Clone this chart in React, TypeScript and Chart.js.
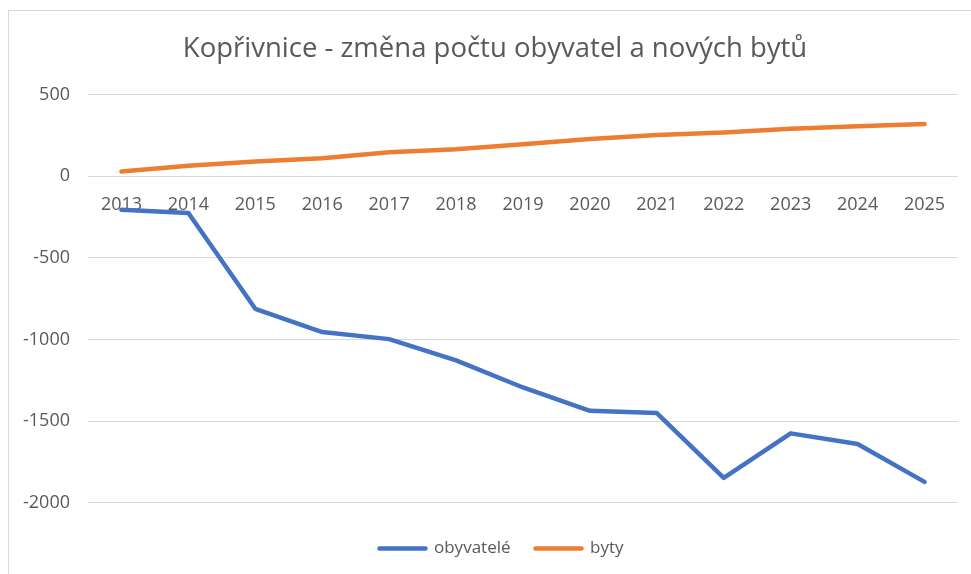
import React, { useEffect, useRef } from "react";
import { Chart, registerables } from "chart.js";

Chart.register(...registerables);

const years = ["2013","2014","2015","2016","2017","2018","2019","2020","2021","2022","2023","2024","2025"];
const obyvatele = [-206, -226, -812, -955, -998, -1128, -1294, -1437, -1451, -1848, -1575, -1640, -1872];
const byty = [28, 63, 89, 110, 146, 165, 195, 228, 252, 268, 291, 305, 319];
const titleText = "Kopřivnice - změna počtu obyvatel a nových bytů";
const seriesNames = ["obyvatelé", "byty"];
const seriesColors = ["#4472C4", "#ED7D31"];
const yTickValues = [500, 0, -500, -1000, -1500, -2000];
const yMax = 500;
const yMin = -2075;

const shiftBlocks = {
  id: "shiftBlocks",
  afterLayout(chart: any) {
    if (chart.titleBlock) chart.titleBlock.left += 32;
    if (chart.legend) chart.legend.left += 45;
  },
};

export default function App() {
  const ref = useRef<HTMLCanvasElement | null>(null);
  useEffect(() => {
    if (!ref.current) return;
    const text = "#595959";
    const chart = new Chart(ref.current, {
      type: "line",
      data: {
        labels: years,
        datasets: [
          {
            label: seriesNames[0],
            data: obyvatele,
            borderColor: seriesColors[0],
            backgroundColor: seriesColors[0],
            borderWidth: 4.5,
            pointRadius: 0,
            tension: 0,
            borderCapStyle: "round",
            borderJoinStyle: "round",
          },
          {
            label: seriesNames[1],
            data: byty,
            borderColor: seriesColors[1],
            backgroundColor: seriesColors[1],
            borderWidth: 4.5,
            pointRadius: 0,
            tension: 0,
            borderCapStyle: "round",
            borderJoinStyle: "round",
          },
        ],
      },
      options: {
        animation: false,
        responsive: false,
        maintainAspectRatio: false,
        layout: { padding: { left: 0, right: 13, top: 0, bottom: 7 } },
        plugins: {
          title: {
            display: true,
            text: titleText,
            color: text,
            font: { family: "Open Sans", size: 27.5, weight: "normal" },
            padding: { top: 33, bottom: 28.5 },
          },
          legend: {
            position: "bottom",
            labels: {
              color: text,
              font: { family: "Open Sans", size: 17 },
              boxWidth: 46,
              boxHeight: 0,
              padding: 25,
            },
          },
          tooltip: { enabled: false },
        },
        scales: {
          x: {
            type: "category",
            offset: true,
            position: { y: 0 } as any,
            grid: { display: false, drawTicks: false },
            border: { display: false },
            ticks: {
              color: text,
              font: { family: "Open Sans", size: 18 },
              padding: 18,
              maxRotation: 0,
              autoSkip: false,
            },
            afterFit: (s: any) => {
              s.height = 0;
            },
          },
          y: {
            min: yMin,
            max: yMax,
            grid: { color: "#d9d9d9", lineWidth: 1, drawTicks: false },
            border: { display: false },
            ticks: {
              color: text,
              font: { family: "Open Sans", size: 18 },
              padding: 18,
              callback: (v: any) => String(v),
            },
            afterBuildTicks: (s: any) => {
              s.ticks = yTickValues.map((v) => ({ value: v }));
            },
            afterFit: (s: any) => {
              s.width = 88;
            },
          },
        },
      },
      plugins: [shiftBlocks],
    });
    return () => chart.destroy();
  }, []);

  return (
    <div style={{ position: "fixed", left: 0, top: 0, width: 971, height: 574, overflow: "hidden", background: "#fff" }}>
      <div
        style={{
          position: "absolute",
          left: 8,
          top: 10,
          width: 1000,
          height: 700,
          border: "1px solid #d9d9d9",
          boxSizing: "border-box",
        }}
      />
      <canvas ref={ref} width={971} height={574} style={{ position: "absolute", left: 0, top: 0, width: 971, height: 574 }} />
    </div>
  );
}
